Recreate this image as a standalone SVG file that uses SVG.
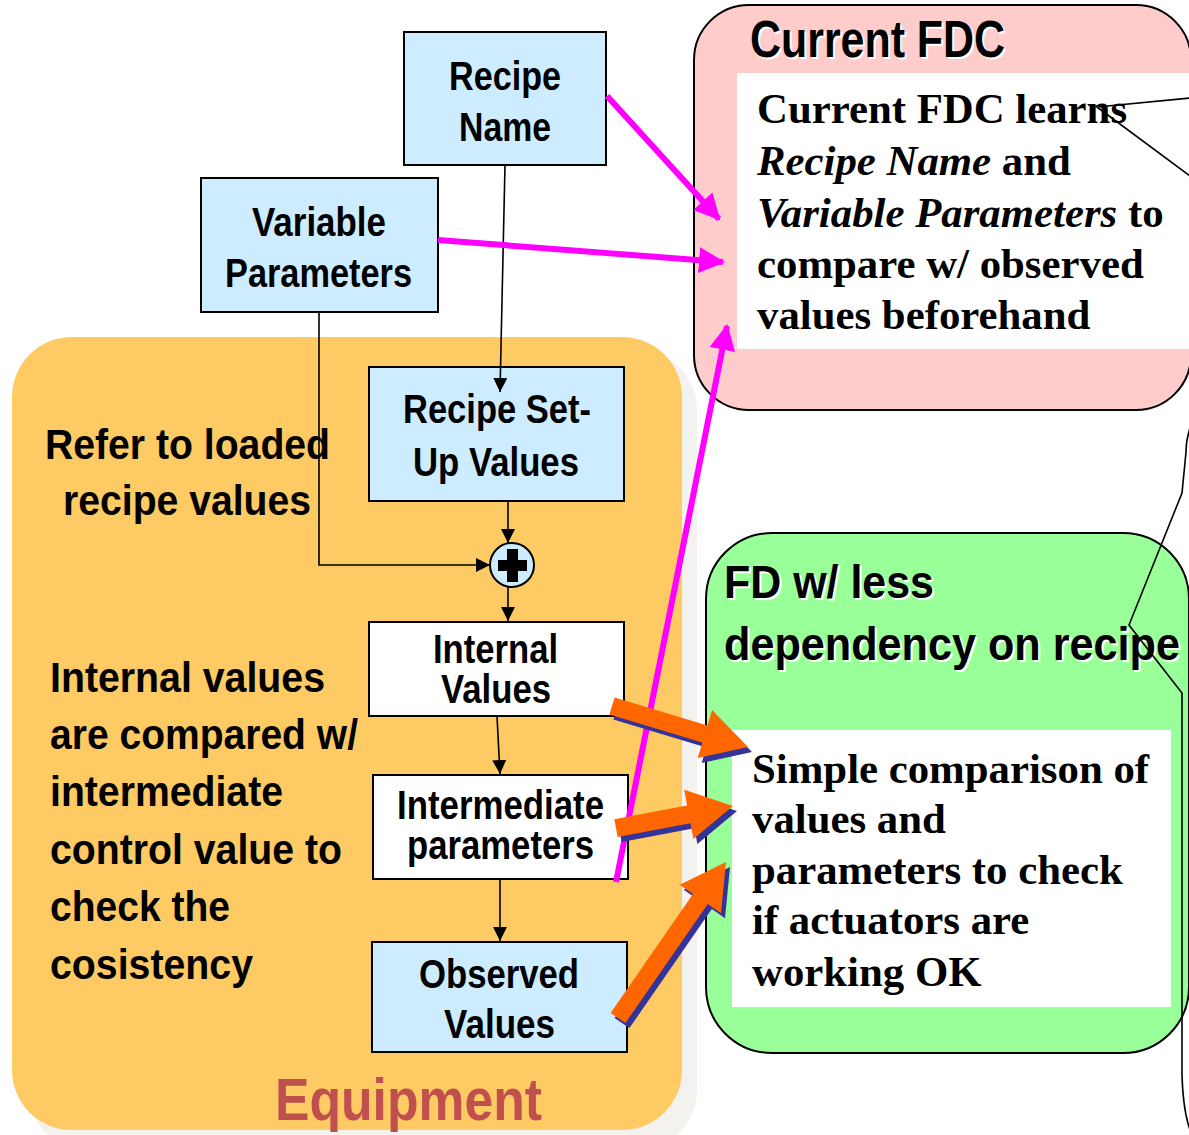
<svg xmlns="http://www.w3.org/2000/svg" width="1189" height="1135" viewBox="0 0 1189 1135">
<style>
.sans{font-family:"Liberation Sans",Arial,sans-serif;font-weight:bold;}
.serif{font-family:"Liberation Serif","Times New Roman",serif;font-weight:bold;font-size:42.8px;fill:#000;}
.bx{font-size:40px;fill:#000;}
.lt{font-size:42px;fill:#000;}
.ttl{fill:#000;}
.sh{fill:#fff;}
.node rect{stroke:#000;stroke-width:2;}
.blue{fill:#cdecff;}
.white{fill:#fff;}
.thin{stroke:#000;stroke-width:1.6;fill:none;}
.mag{stroke:#ff00ff;stroke-width:6;fill:none;}
.call{stroke:#000;stroke-width:1.6;fill:none;}
</style>
<defs>
<marker id="ah" markerUnits="userSpaceOnUse" markerWidth="14" markerHeight="14" refX="14" refY="7" orient="auto">
<path d="M0,0 L14,7 L0,14 z" fill="#000"/>
</marker>
<marker id="mh" markerUnits="userSpaceOnUse" markerWidth="26" markerHeight="26" refX="24" refY="13" orient="auto">
<path d="M0,0 L26,13 L0,26 z" fill="#ff00ff"/>
</marker>
</defs>
<rect width="1189" height="1135" fill="#fff"/>

<g id="equipment">
<rect x="28" y="350" width="669" height="800" rx="60" fill="#f3f2ee"/>
<rect x="12" y="337" width="670" height="793" rx="60" fill="#fdca64"/>
<text class="sans" x="275" y="1120" font-size="60" fill="#c0504d" textLength="267" lengthAdjust="spacingAndGlyphs">Equipment</text>
<text class="sans lt" x="45" y="459" textLength="285" lengthAdjust="spacingAndGlyphs">Refer to loaded</text>
<text class="sans lt" x="63" y="515" textLength="248" lengthAdjust="spacingAndGlyphs">recipe values</text>
<text class="sans lt" x="50" y="692" textLength="275" lengthAdjust="spacingAndGlyphs">Internal values</text>
<text class="sans lt" x="50" y="749" textLength="308" lengthAdjust="spacingAndGlyphs">are compared w/</text>
<text class="sans lt" x="50" y="806" textLength="233" lengthAdjust="spacingAndGlyphs">intermediate</text>
<text class="sans lt" x="50" y="864" textLength="292" lengthAdjust="spacingAndGlyphs">control value to</text>
<text class="sans lt" x="50" y="921" textLength="180" lengthAdjust="spacingAndGlyphs">check the</text>
<text class="sans lt" x="50" y="979" textLength="203" lengthAdjust="spacingAndGlyphs">cosistency</text>
</g>

<g id="current-fdc">
<rect x="694" y="5" width="497" height="405" rx="55" fill="#ffcccc" stroke="#000" stroke-width="2"/>
<rect x="737" y="73" width="460" height="276" fill="#fff"/>
<text class="sans sh" x="752" y="59" font-size="52" textLength="255" lengthAdjust="spacingAndGlyphs">Current FDC</text>
<text class="sans ttl" x="750" y="57" font-size="52" textLength="255" lengthAdjust="spacingAndGlyphs">Current FDC</text>
<text class="serif" x="757" y="123">Current FDC learns</text>
<text class="serif" x="757" y="175"><tspan font-style="italic">Recipe Name</tspan> and</text>
<text class="serif" x="757" y="227"><tspan font-style="italic">Variable Parameters</tspan> to</text>
<text class="serif" x="757" y="278">compare w/ observed</text>
<text class="serif" x="757" y="329">values beforehand</text>
</g>

<g id="fd-less">
<rect x="706" y="533" width="483" height="520" rx="66" fill="#99ff99" stroke="#000" stroke-width="2"/>
<rect x="732" y="730" width="439" height="277" fill="#fff"/>
<text class="sans sh" x="726" y="600" font-size="46" textLength="210" lengthAdjust="spacingAndGlyphs">FD w/ less</text>
<text class="sans ttl" x="724" y="598" font-size="46" textLength="210" lengthAdjust="spacingAndGlyphs">FD w/ less</text>
<text class="sans sh" x="726" y="662" font-size="46" textLength="456" lengthAdjust="spacingAndGlyphs">dependency on recipe</text>
<text class="sans ttl" x="724" y="660" font-size="46" textLength="456" lengthAdjust="spacingAndGlyphs">dependency on recipe</text>
<text class="serif" x="752" y="783">Simple comparison of</text>
<text class="serif" x="752" y="833">values and</text>
<text class="serif" x="752" y="884">parameters to check</text>
<text class="serif" x="752" y="934">if actuators are</text>
<text class="serif" x="752" y="986">working OK</text>
</g>

<g id="recipe-name" class="node">
<rect class="blue" x="404" y="32" width="202" height="133"/>
<text class="sans bx" x="449" y="90" textLength="112" lengthAdjust="spacingAndGlyphs">Recipe</text>
<text class="sans bx" x="459" y="141" textLength="92" lengthAdjust="spacingAndGlyphs">Name</text>
</g>
<g id="variable-parameters" class="node">
<rect class="blue" x="201" y="178" width="237" height="134"/>
<text class="sans bx" x="252" y="236" textLength="134" lengthAdjust="spacingAndGlyphs">Variable</text>
<text class="sans bx" x="225" y="287" textLength="187" lengthAdjust="spacingAndGlyphs">Parameters</text>
</g>
<g id="recipe-setup" class="node">
<rect class="blue" x="369" y="367" width="255" height="134"/>
<text class="sans bx" x="403" y="423" textLength="188" lengthAdjust="spacingAndGlyphs">Recipe Set-</text>
<text class="sans bx" x="413" y="476" textLength="166" lengthAdjust="spacingAndGlyphs">Up Values</text>
</g>
<g id="sum" class="node">
<circle cx="512" cy="565" r="22" fill="#cdecff" stroke="#000" stroke-width="2"/>
<rect x="499" y="561" width="27" height="9" fill="#000" stroke="none"/>
<rect x="508" y="550" width="9" height="31" fill="#000" stroke="none"/>
</g>
<g id="internal-values" class="node">
<rect class="white" x="369" y="622" width="255" height="94"/>
<text class="sans bx" x="433" y="663" textLength="125" lengthAdjust="spacingAndGlyphs">Internal</text>
<text class="sans bx" x="441" y="703" textLength="110" lengthAdjust="spacingAndGlyphs">Values</text>
</g>
<g id="intermediate-parameters" class="node">
<rect class="white" x="373" y="775" width="255" height="104"/>
<text class="sans bx" x="397" y="819" textLength="207" lengthAdjust="spacingAndGlyphs">Intermediate</text>
<text class="sans bx" x="407" y="859" textLength="187" lengthAdjust="spacingAndGlyphs">parameters</text>
</g>
<g id="observed-values" class="node">
<rect class="blue" x="372" y="942" width="255" height="110"/>
<text class="sans bx" x="419" y="988" textLength="160" lengthAdjust="spacingAndGlyphs">Observed</text>
<text class="sans bx" x="444" y="1038" textLength="111" lengthAdjust="spacingAndGlyphs">Values</text>
</g>

<g id="connectors">
<line class="thin" x1="505" y1="165" x2="500" y2="392" marker-end="url(#ah)"/>
<polyline class="thin" points="319,312 319,565 490,565" marker-end="url(#ah)"/>
<line class="thin" x1="508" y1="501" x2="508" y2="543" marker-end="url(#ah)"/>
<line class="thin" x1="508" y1="587" x2="508" y2="621" marker-end="url(#ah)"/>
<line class="thin" x1="497" y1="716" x2="500" y2="774" marker-end="url(#ah)"/>
<line class="thin" x1="500" y1="879" x2="500" y2="941" marker-end="url(#ah)"/>
<line class="mag" x1="607" y1="96" x2="719" y2="219" marker-end="url(#mh)"/>
<line class="mag" x1="438" y1="240" x2="723" y2="262" marker-end="url(#mh)"/>
<line class="mag" x1="616" y1="882" x2="727" y2="326" marker-end="url(#mh)"/>
<g transform="translate(4,5)" fill="#333399">
<polygon points="614.6,697.4 707.5,725.4 712.1,710.1 748,747 697.7,758 702.3,742.6 609.4,714.6"/>
<polygon points="614.3,819.2 687.1,805.5 684.2,789.8 733,806 693.4,838.9 690.4,823.2 617.7,836.9"/>
<polygon points="610.6,1012.9 693,893.9 679.8,884.8 726,862 721,913.2 707.8,904.1 625.4,1023.1"/>
</g>
<g fill="#ff6600">
<polygon points="614.6,697.4 707.5,725.4 712.1,710.1 748,747 697.7,758 702.3,742.6 609.4,714.6"/>
<polygon points="614.3,819.2 687.1,805.5 684.2,789.8 733,806 693.4,838.9 690.4,823.2 617.7,836.9"/>
<polygon points="610.6,1012.9 693,893.9 679.8,884.8 726,862 721,913.2 707.8,904.1 625.4,1023.1"/>
</g>
<polyline class="call" points="1190,98 1097,107 1190,176"/>
<path class="call" d="M1190,428 Q1186,440 1186,452 L1182,493 L1129,625 L1182,693 L1182,1075 Q1183,1110 1190,1130"/>
</g>
</svg>
